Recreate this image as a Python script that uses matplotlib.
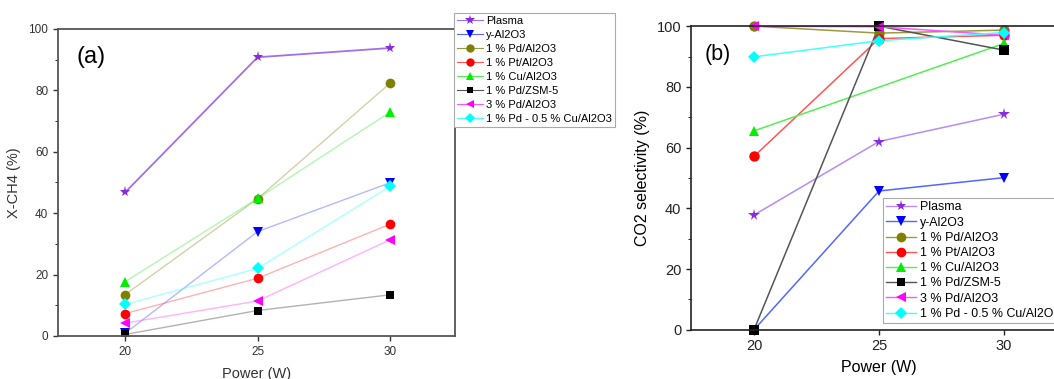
import matplotlib.pyplot as plt
import numpy as np

plt.rcParams['font.family'] = ['Liberation Sans', 'DejaVu Sans']

# Data
power = [20, 25, 30]
labels = ['Plasma', 'y-Al2O3', '1 % Pd/Al2O3', '1 % Pt/Al2O3', '1 % Cu/Al2O3',
          '1 % Pd/ZSM-5', '3 % Pd/Al2O3', '1 % Pd - 0.5 % Cu/Al2O3']

# (a) methane conversion
xch4_plasma = [46.8, 90.8, 93.8]
xch4_al2o3 = [0.9, 34.0, 49.9]
xch4_pd = [13.5, 44.7, 82.3]
xch4_pt = [7.3, 18.8, 36.4]
xch4_cu = [17.7, 44.8, 72.9]
xch4_zsm = [0.5, 8.3, 13.4]
xch4_pd3 = [4.2, 11.4, 31.3]
xch4_pdcu = [10.3, 22.0, 48.7]

# (b) CO2 selectivity (no Cu point at 25 W)
sco2_plasma = [37.8, 62.0, 71.0]
sco2_al2o3 = [0.0, 45.7, 50.1]
sco2_pd = [100.0, 97.7, 98.7]
sco2_pt = [57.1, 95.9, 97.0]
sco2_cu = [65.5, np.nan, 94.3]
sco2_zsm = [0.0, 100.0, 92.1]
sco2_pd3 = [100.0, 99.8, 97.0]
sco2_pdcu = [89.9, 95.2, 97.9]

markers = ['*', 'v', 'o', 'o', '^', 's', '<', 'D']
mcolors = ['#8a2be2', '#0000ff', '#808000', '#ff0000', '#00ee00', '#000000', '#ff00ff', '#00ffff']
lcolors = ['#a070e8', '#5566ff', '#9a9a40', '#ff5555', '#55ee55', '#555555', '#ff55ff', '#44ffff']
msizes = [8, 7, 7, 7, 7, 6, 7, 6]

fig = plt.figure(figsize=(10.54, 3.79), dpi=100)

# ---- panel (a)
ax1 = fig.add_axes([0.055, 0.1135, 0.3767, 0.810])
data_a = [xch4_plasma, xch4_al2o3, xch4_pd, xch4_pt, xch4_cu, xch4_zsm, xch4_pd3, xch4_pdcu]
for n in range(8):
    ax1.plot(power, data_a[n], color=lcolors[n], alpha=1.0 if n == 0 else 0.45,
             linewidth=1.3 if n == 0 else 1.0)
for n in range(8):
    ax1.plot(power, data_a[n], linestyle='none', marker=markers[n], color=mcolors[n],
             markersize=msizes[n], markeredgewidth=0)
handles = [plt.Line2D([], [], color=lcolors[n], marker=markers[n], markerfacecolor=mcolors[n],
                      markeredgewidth=0, markersize=msizes[n] - 1, linewidth=0.8)
           for n in range(8)]
leg = fig.legend(handles, labels, loc='upper left', bbox_to_anchor=(454 / 1054, 1 - 13 / 379),
                 fontsize=8, labelspacing=0.36, handlelength=2.4, handletextpad=0.27,
                 borderpad=0.25, borderaxespad=0, fancybox=False, edgecolor='#aaaaaa',
                 framealpha=1)
leg.get_frame().set_linewidth(0.8)

ax1.set_xlim(17.46, 32.46)
ax1.set_ylim(0, 100)
ax1.set_xticks(power)
ax1.set_yticks(range(0, 101, 20))
ax1.set_yticks(range(10, 100, 20), minor=True)
ax1.tick_params(labelsize=8.5, colors='#333333', width=1)
ax1.tick_params(which='minor', length=2.5)
ax1.set_xlabel('Power (W)', fontsize=10.5, color='#333333', labelpad=7)
ax1.set_ylabel('X-CH4 (%)', fontsize=10.5, color='#333333', labelpad=5)
for s in ax1.spines.values():
    s.set_color('#555555')
    s.set_linewidth(1.3)
ax1.text(0.083, 0.909, '(a)', transform=ax1.transAxes, fontsize=17, ha='center', va='center')

# ---- panel (b)
ax2 = fig.add_axes([0.6556, 0.130, 0.3563, 0.801])
data_b = [sco2_plasma, sco2_al2o3, sco2_pd, sco2_pt, sco2_cu, sco2_zsm, sco2_pd3, sco2_pdcu]
for n in range(8):
    y = np.array(data_b[n], dtype=float)
    ok = ~np.isnan(y)
    x = np.array(power)[ok]
    ax2.plot(x, y[ok], color=lcolors[n] if n != 0 else '#b68cf5', linewidth=1.1)
for n in range(8):
    ax2.plot(power, data_b[n], linestyle='none', marker=markers[n], color=mcolors[n],
             markersize=msizes[n] + 0.5, markeredgewidth=0, clip_on=False)
handles2 = [plt.Line2D([], [], color=lcolors[n] if n != 0 else '#b68cf5', marker=markers[n],
                       markerfacecolor=mcolors[n], markeredgewidth=0, markersize=msizes[n],
                       linewidth=1.0)
            for n in range(8)]
leg2 = ax2.legend(handles2, labels, loc='lower left', bbox_to_anchor=(883 / 1054, 56 / 379),
                  bbox_transform=fig.transFigure, fontsize=8.9, labelspacing=0.26,
                  handlelength=2.4, handletextpad=0.32, borderpad=0.25, borderaxespad=0,
                  fancybox=False, edgecolor='#aaaaaa', framealpha=1)
leg2.get_frame().set_linewidth(0.8)

ax2.set_xlim(17.48, 32.5)
ax2.set_ylim(0, 100)
ax2.set_xticks(power)
ax2.set_yticks(range(0, 101, 20))
ax2.set_yticks(range(10, 100, 20), minor=True)
ax2.tick_params(labelsize=10.5, colors='#222222', width=1)
ax2.tick_params(which='minor', length=2.5)
ax2.set_xlabel('Power (W)', fontsize=11.5, labelpad=5)
ax2.set_ylabel('CO2 selectivity (%)', fontsize=11.5, labelpad=5)
for s in ax2.spines.values():
    s.set_color('#222222')
    s.set_linewidth(1.2)
ax2.text(0.072, 0.908, '(b)', transform=ax2.transAxes, fontsize=15.5, ha='center', va='center')

plt.savefig('out.png', dpi=100, facecolor='w')
